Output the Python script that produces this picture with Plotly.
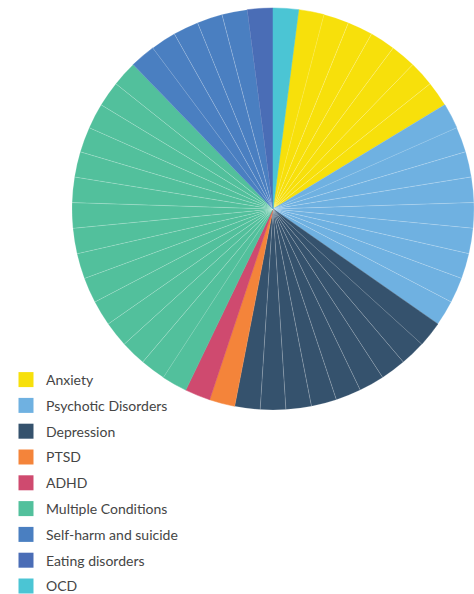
import plotly.graph_objects as go

# Categories and number of equal-weight cases in each
categories = [
    "Anxiety",
    "Psychotic Disorders",
    "Depression",
    "PTSD",
    "ADHD",
    "Multiple Conditions",
    "Self-harm and suicide",
    "Eating disorders",
    "OCD",
]
case_counts = [7, 9, 9, 1, 1, 15, 5, 1, 1]
case_value = 1  # every case carries the same weight

colors = [
    "#F7E00B",
    "#6FB1E1",
    "#35526D",
    "#F4843A",
    "#CF4A6F",
    "#52C09C",
    "#4A7FC1",
    "#4A6DB6",
    "#4BC5D4",
]

# One slice per case; the first slice of each category has an edge in its own
# colour so only the internal splits show a light divider
slice_labels, slice_values, slice_colors, line_colors = [], [], [], []
for cat, n, col in zip(categories, case_counts, colors):
    for k in range(n):
        slice_labels.append(f"{cat} {k + 1}")
        slice_values.append(case_value)
        slice_colors.append(col)
        line_colors.append(col if k == 0 else "rgba(255,255,255,0.3)")

total = sum(case_counts) * case_value
start_rotation = 360 * case_counts[-1] * case_value / total

W, H = 474, 594
cy, r = 209, 201
cx = W - r

fig = go.Figure()
fig.add_trace(go.Pie(
    labels=slice_labels,
    values=slice_values,
    sort=False,
    direction="clockwise",
    rotation=start_rotation,
    marker=dict(colors=slice_colors, line=dict(color=line_colors, width=0.5)),
    textinfo="none",
    hoverinfo="skip",
    showlegend=False,
    domain=dict(x=[(cx - r) / W, 1.0], y=[(H - cy - r) / H, (H - cy + r) / H]),
))

# Legend entries, one per category
for cat, col in zip(categories, colors):
    fig.add_trace(go.Scatter(
        x=[None], y=[None], mode="markers", name=cat, legendgroup=cat,
        marker=dict(symbol="square", size=15, color=col, line=dict(width=0)),
    ))

fig.update_layout(
    width=W, height=H,
    margin=dict(l=0, r=0, t=0, b=0, autoexpand=False),
    paper_bgcolor="white", plot_bgcolor="white",
    xaxis=dict(visible=False), yaxis=dict(visible=False),
    font=dict(family="Lato, sans-serif", size=14, color="#454545"),
    legend=dict(
        x=6 / W, xanchor="left", y=(H - 364) / H, yanchor="top",
        tracegroupgap=4.6, itemclick=False, itemdoubleclick=False,
        bgcolor="rgba(0,0,0,0)", borderwidth=0,
    ),
)

fig.write_html("out.html")
